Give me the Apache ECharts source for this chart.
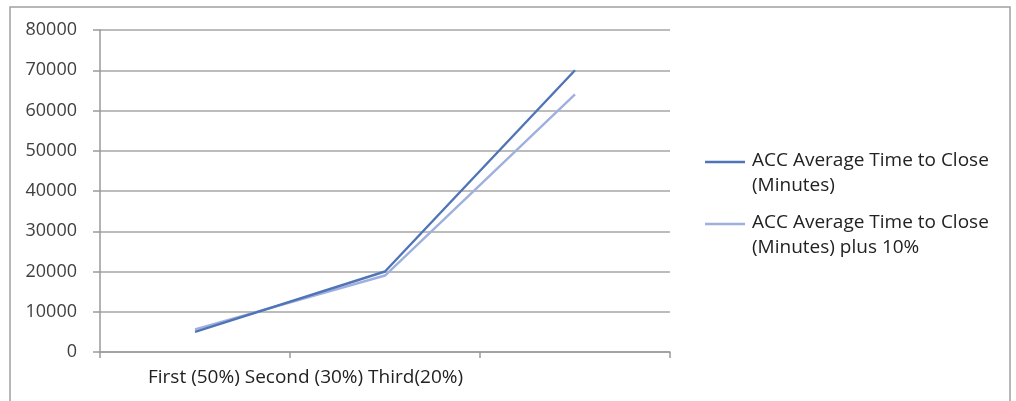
<!DOCTYPE html>
<html><head><meta charset="utf-8">
<script src="https://cdn.jsdelivr.net/npm/echarts@6/dist/echarts.min.js"></script>
<style>html,body{margin:0;padding:0;background:#fff}#c{width:1016px;height:401px}</style>
</head><body><div id="c"></div>
<script>
var categories = ['First (50%)', 'Second (30%)', 'Third(20%)'];
var seriesNames = ['ACC Average Time to Close (Minutes)', 'ACC Average Time to Close (Minutes) plus 10%'];
var accTime = [5000, 20000, 70000];
var accTimePlus10 = [5600, 19000, 64000];
var yTicks = [0, 10000, 20000, 30000, 40000, 50000, 60000, 70000, 80000];

var FONT = 'Open Sans';
var darkC = '#4f75b6', lightC = '#9fb0df';
var chart = echarts.init(document.getElementById('c'));
chart.setOption({
  animation: false,
  textStyle: {fontFamily: FONT},
  grid: {left: 100, top: 30, width: 570, height: 322},
  xAxis: {
    type: 'category', data: categories, boundaryGap: true,
    axisLine: {lineStyle: {color: '#9a9a9a', width: 1.5}},
    axisTick: {show: true, length: 6, lineStyle: {color: '#9a9a9a', width: 1.5}},
    axisLabel: {show: false}
  },
  yAxis: {
    type: 'value', min: yTicks[0], max: yTicks[yTicks.length - 1], interval: yTicks[1] - yTicks[0],
    axisLine: {show: true, lineStyle: {color: '#9a9a9a', width: 1.5}},
    axisTick: {show: true, length: 7, lineStyle: {color: '#9a9a9a', width: 1.5}},
    splitLine: {lineStyle: {color: '#a6a6a6', width: 1.5}},
    axisLabel: {margin: 23, color: '#404040', fontSize: 18, fontFamily: FONT, formatter: function (v) { return String(v); }}
  },
  series: [
    {name: seriesNames[0], type: 'line', data: accTime, symbol: 'none', z: 3,
     lineStyle: {color: darkC, width: 2.4}},
    {name: seriesNames[1], type: 'line', data: accTimePlus10, symbol: 'none', z: 2,
     lineStyle: {color: lightC, width: 2.4}}
  ],
  graphic: [
    {type: 'rect', shape: {x: 10, y: 7, width: 1000, height: 420}, style: {fill: 'none', stroke: '#a0a0a0', lineWidth: 1.5}, silent: true},
    {type: 'line', shape: {x1: 705, y1: 162, x2: 745, y2: 162}, style: {stroke: darkC, lineWidth: 2.5}},
    {type: 'text', left: 752, top: 148, style: {text: 'ACC Average Time to Close\n(Minutes)', font: '19px "Open Sans"', fill: '#222', lineHeight: 25}},
    {type: 'line', shape: {x1: 705, y1: 224, x2: 745, y2: 224}, style: {stroke: lightC, lineWidth: 2.5}},
    {type: 'text', left: 752, top: 210, style: {text: 'ACC Average Time to Close\n(Minutes) plus 10%', font: '19px "Open Sans"', fill: '#222', lineHeight: 25}},
    {type: 'text', left: 148, top: 368, style: {text: categories.join(' '), font: '19px "Open Sans"', fill: '#222'}}
  ]
});
</script></body></html>
